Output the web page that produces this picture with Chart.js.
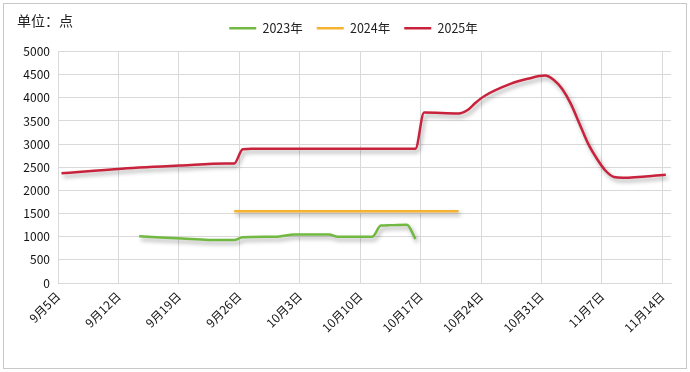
<!DOCTYPE html>
<html>
<head>
<meta charset="utf-8">
<script src="https://cdn.jsdelivr.net/npm/chart.js@4/dist/chart.umd.min.js"></script>
<style>
  html, body { margin: 0; padding: 0; background: #fff; }
  #wrap { position: relative; width: 690px; height: 372px; }
  #frame { position: absolute; left: 3px; top: 3px; width: 684px; height: 366px; box-sizing: border-box; border: 1px solid #c8c8c8; }
  #unit { position: absolute; left: 17px; top: 10px; font: 14px "Noto Sans CJK SC", sans-serif; color: #222; }
  canvas { position: absolute; left: 0; top: 0; }
</style>
</head>
<body>
<div id="wrap">
  <div id="frame"></div>
  <canvas id="chart" width="690" height="372"></canvas>
  <div id="unit">单位：点</div>
</div>
<script>
// x axis runs from 9月5日, one tick a week
const startDate = '9-5';
const xTickLabels = ['9月5日', '9月12日', '9月19日', '9月26日', '10月3日', '10月10日',
  '10月17日', '10月24日', '10月31日', '11月7日', '11月14日'];

const dates2023 = ['9-14', '9-19', '9-22', '9-25', '9-26', '9-30', '10-2', '10-6', '10-7',
  '10-11', '10-12', '10-13', '10-15', '10-16'];
const values2023 = [1010, 960, 930, 930, 990, 1000, 1050, 1050, 1000, 1000, 1240, 1250, 1260, 950];

const dates2024 = ['9-25', '10-21'];
const values2024 = [1550, 1550];

const dates2025 = ['9-5', '9-12', '9-19', '9-24', '9-25', '9-26', '9-27', '10-16', '10-17',
  '10-21', '10-22', '10-23', '10-24', '10-27', '10-29', '10-31', '11-1', '11-2', '11-3',
  '11-4', '11-5', '11-6', '11-7', '11-8', '11-9', '11-14'];
const values2025 = [2370, 2470, 2540, 2580, 2580, 2890, 2900, 2900, 3680,
  3660, 3730, 3900, 4040, 4300, 4410, 4480, 4390, 4190, 3870,
  3440, 3010, 2690, 2430, 2290, 2275, 2340];

function dayOf(s) {
  const [m, d] = s.split('-').map(Number);
  const [m0, d0] = startDate.split('-').map(Number);
  return Math.round((Date.UTC(2025, m - 1, d) - Date.UTC(2025, m0 - 1, d0)) / 86400000);
}
// points sit a little past the start of their day
function points(dates, values) {
  return dates.map((s, i) => ({ x: dayOf(s) + 0.4, y: values[i] }));
}

const font = { family: '"Noto Sans CJK SC", sans-serif', size: 12 };

const tweaks = {
  id: 'tweaks',
  afterInit(chart) {
    // a bit more room between the legend and the plot
    const fit = chart.legend.fit;
    chart.legend.fit = function () {
      fit.call(this);
      this.height += 7;
    };
  },
  afterLayout(chart) {
    chart.legend.left += 14;
    chart.legend.right += 14;
  },
  beforeDatasetDraw(chart) {
    const ctx = chart.ctx;
    ctx.save();
    ctx.shadowColor = 'rgba(0,0,0,0.35)';
    ctx.shadowBlur = 4;
    ctx.shadowOffsetX = 2;
    ctx.shadowOffsetY = 3;
  },
  afterDatasetDraw(chart) {
    chart.ctx.restore();
  }
};

function line(label, data, color) {
  return {
    label: label,
    data: data,
    borderColor: color,
    backgroundColor: color,
    borderWidth: 2.5,
    pointRadius: 0,
    pointHoverRadius: 0,
    cubicInterpolationMode: 'monotone',
    fill: false
  };
}

new Chart(document.getElementById('chart'), {
  type: 'line',
  data: {
    datasets: [
      line('2023年', points(dates2023, values2023), '#72b942'),
      line('2024年', points(dates2024, values2024), '#f6b233'),
      line('2025年', points(dates2025, values2025), '#c9223c')
    ]
  },
  options: {
    responsive: false,
    animation: false,
    layout: { padding: { left: 8, right: 19, top: 8, bottom: 0 } },
    plugins: {
      legend: {
        position: 'top',
        labels: {
          usePointStyle: true,
          pointStyle: 'line',
          pointStyleWidth: 27,
          padding: 14,
          color: '#222',
          font: { family: font.family, size: 12.5 }
        }
      },
      tooltip: { enabled: false }
    },
    scales: {
      x: {
        type: 'linear',
        min: 0,
        max: 71,
        afterBuildTicks: axis => {
          axis.ticks = xTickLabels.map((s, i) => ({ value: i * 7 }));
        },
        afterFit: axis => { axis.height = 89; },
        ticks: {
          stepSize: 7,
          autoSkip: false,
          minRotation: 45,
          maxRotation: 45,
          padding: 6,
          color: '#111',
          font: font,
          callback: v => xTickLabels[Math.round(v / 7)]
        },
        grid: { color: '#d9d9d9', drawTicks: false },
        border: { color: '#d9d9d9' }
      },
      y: {
        min: 0,
        max: 5000,
        afterFit: axis => { axis.width = 50; },
        ticks: { stepSize: 500, padding: 8, color: '#111', font: font, callback: v => String(v) },
        grid: { color: '#d9d9d9', drawTicks: false },
        border: { color: '#d9d9d9' }
      }
    }
  },
  plugins: [tweaks]
});
</script>
</body>
</html>
